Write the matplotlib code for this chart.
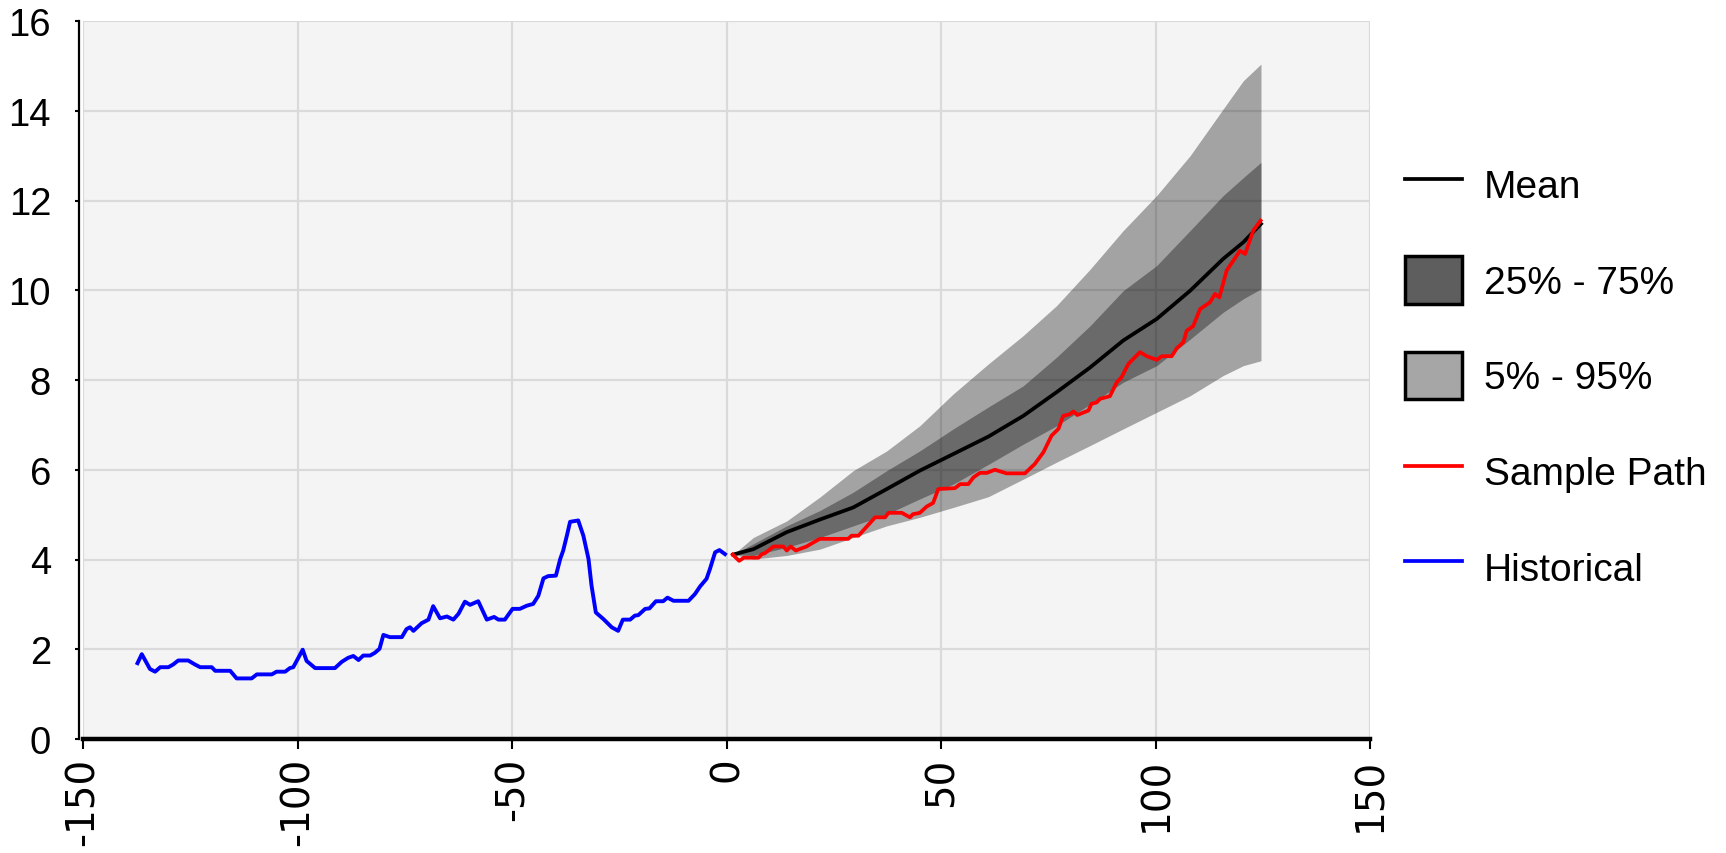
import matplotlib
matplotlib.use("Agg")
import matplotlib.pyplot as plt
from matplotlib.lines import Line2D
from matplotlib.patches import Patch

plt.rcParams['font.family'] = ['Liberation Sans', 'DejaVu Sans']
plt.rcParams['axes.unicode_minus'] = False

# ---------------- data ----------------
hist_x = [-137.3, -136.3, -134.4, -133.2, -132.0, -130.1, -129.0, -127.8, -125.5, -123.9,
          -122.7, -120.0, -119.2, -115.7, -114.2, -110.7, -109.5, -106.0, -104.9, -102.9,
          -101.8, -101.0, -98.8, -97.9, -95.9, -91.3, -89.7, -88.2, -87.0, -85.8,
          -84.7, -83.1, -82.0, -80.9, -80.0, -78.5, -75.7, -74.6, -73.8, -73.0,
          -71.1, -69.5, -68.4, -66.8, -65.2, -63.7, -62.5, -61.0, -59.8, -57.9,
          -55.9, -54.2, -53.2, -51.7, -49.9, -48.2, -46.6, -45.1, -43.9, -42.7,
          -41.6, -39.8, -38.8, -38.1, -37.2, -36.5, -34.6, -33.4, -32.2, -31.5,
          -30.5, -28.7, -26.8, -25.3, -24.2, -22.5, -21.4, -20.6, -19.0, -18.0,
          -16.5, -14.8, -13.8, -12.4, -8.9, -7.4, -6.2, -4.7, -3.9, -2.7,
          -1.7, -0.4]
hist_y = [1.69, 1.89, 1.56, 1.50, 1.60, 1.60, 1.66, 1.75, 1.75, 1.66,
          1.60, 1.60, 1.52, 1.52, 1.35, 1.35, 1.44, 1.44, 1.50, 1.50,
          1.58, 1.60, 1.99, 1.74, 1.58, 1.58, 1.72, 1.81, 1.85, 1.76,
          1.86, 1.86, 1.92, 2.01, 2.32, 2.27, 2.27, 2.45, 2.49, 2.41,
          2.58, 2.66, 2.96, 2.69, 2.73, 2.66, 2.79, 3.06, 2.99, 3.07,
          2.66, 2.72, 2.66, 2.66, 2.90, 2.90, 2.97, 3.01, 3.19, 3.58,
          3.63, 3.64, 4.01, 4.20, 4.55, 4.84, 4.87, 4.53, 4.01, 3.42,
          2.82, 2.67, 2.49, 2.41, 2.66, 2.66, 2.75, 2.76, 2.90, 2.91,
          3.07, 3.07, 3.15, 3.08, 3.08, 3.23, 3.40, 3.57, 3.79, 4.16,
          4.21, 4.12]

fc_x = [1.5, 6.2, 14.0, 21.7, 29.5, 37.3, 45.0, 52.8, 61.0, 69.1,
        76.9, 84.7, 92.4, 100.2, 108.0, 115.7, 120.4, 124.5]
mean_y = [4.11, 4.23, 4.61, 4.89, 5.16, 5.57, 5.98, 6.35, 6.74, 7.20,
          7.73, 8.28, 8.88, 9.36, 9.99, 10.70, 11.07, 11.48]
p95_y = [4.11, 4.49, 4.86, 5.39, 5.98, 6.42, 6.98, 7.69, 8.36, 8.99,
         9.66, 10.47, 11.33, 12.11, 13.00, 14.04, 14.67, 15.04]
p75_y = [4.11, 4.35, 4.75, 5.09, 5.50, 5.98, 6.42, 6.91, 7.40, 7.87,
         8.51, 9.21, 9.99, 10.55, 11.33, 12.11, 12.51, 12.85]
p25_y = [4.11, 4.09, 4.27, 4.49, 4.75, 5.01, 5.35, 5.68, 6.12, 6.57,
         6.98, 7.46, 7.95, 8.32, 8.91, 9.51, 9.81, 10.03]
p05_y = [4.11, 4.01, 4.09, 4.23, 4.49, 4.75, 4.94, 5.16, 5.40, 5.79,
         6.17, 6.54, 6.91, 7.28, 7.65, 8.10, 8.32, 8.43]

samp_x = [1.4, 2.9, 4.0, 7.4, 8.2, 8.9, 10.9, 13.2, 14.0, 14.9,
          16.1, 18.6, 20.2, 21.7, 28.3, 29.1, 30.7, 34.6, 36.9, 37.7,
          40.8, 42.7, 43.4, 45.0, 46.6, 48.1, 49.3, 53.2, 54.4, 56.3,
          57.5, 59.0, 60.6, 62.5, 65.2, 69.5, 71.8, 73.8, 75.7, 77.3,
          78.4, 80.0, 80.8, 81.7, 84.3, 85.0, 86.2, 87.0, 89.3, 90.9,
          92.0, 93.6, 96.3, 97.9, 100.2, 101.4, 103.7, 104.9, 106.4, 107.2,
          108.7, 110.3, 112.6, 113.8, 114.8, 116.5, 119.6, 120.8, 122.7, 124.4]
samp_y = [4.11, 3.97, 4.04, 4.04, 4.12, 4.14, 4.29, 4.29, 4.20, 4.29,
          4.20, 4.29, 4.38, 4.46, 4.46, 4.53, 4.53, 4.94, 4.94, 5.04,
          5.04, 4.94, 5.01, 5.04, 5.18, 5.26, 5.57, 5.59, 5.68, 5.68,
          5.83, 5.93, 5.93, 6.00, 5.92, 5.92, 6.13, 6.39, 6.76, 6.91,
          7.20, 7.24, 7.30, 7.22, 7.32, 7.47, 7.50, 7.58, 7.64, 7.95,
          8.06, 8.36, 8.62, 8.53, 8.45, 8.53, 8.53, 8.71, 8.84, 9.10,
          9.20, 9.58, 9.73, 9.92, 9.84, 10.44, 10.88, 10.81, 11.33, 11.55]

x_ticks = [-150, -100, -50, 0, 50, 100, 150]
x_labels = ["-150", "-100", "-50", "0", "50", "100", "150"]
y_ticks = [0, 2, 4, 6, 8, 10, 12, 14, 16]
y_labels = ["0", "2", "4", "6", "8", "10", "12", "14", "16"]
legend_labels = ["Mean", "25% - 75%", "5% - 95%", "Sample Path", "Historical"]

# ---------------- figure ----------------
W, H = 1726, 854
fig = plt.figure(figsize=(W / 100, H / 100), dpi=100, facecolor='white')
ax = fig.add_axes([83 / W, 1 - 740 / H, (1370.4 - 83) / W, (740 - 22) / H])
ax.set_facecolor('#f4f4f4')

for s in ['top', 'right']:
    ax.spines[s].set_visible(False)
ax.spines['left'].set_position(('outward', 3))
ax.spines['bottom'].set_linewidth(3.2)
ax.spines['left'].set_linewidth(1.6)

ax.set_xlim(-150, 150)
ax.set_ylim(0, 16)
ax.set_xticks(x_ticks)
ax.set_xticklabels(x_labels, rotation=90, fontsize=28,
                   family=['DejaVu Sans'])
ax.set_yticks(y_ticks)
ax.set_yticklabels(y_labels, fontsize=27.5, family=['Liberation Sans'])
ax.grid(True, color='#dadada', linewidth=1.6, zorder=0)
ax.set_axisbelow(True)

ax.tick_params(axis='x', length=7.5, width=1.5, pad=5, direction='out')
ax.tick_params(axis='y', length=3, width=1.5, pad=17, direction='out')

ax.fill_between(fc_x, p05_y, p95_y, color='black', alpha=0.33, linewidth=0, zorder=2)
ax.fill_between(fc_x, p25_y, p75_y, color='black', alpha=0.35, linewidth=0, zorder=3)
ax.plot(fc_x, mean_y, color='black', linewidth=2.7, zorder=4)
ax.plot(samp_x, samp_y, color='#ff0000', linewidth=2.7, zorder=5)
ax.plot(hist_x, hist_y, color='#0000ff', linewidth=2.8, zorder=5)

handles = [
    Line2D([], [], color='black', linewidth=2.7),
    Patch(facecolor='#5e5e5e', edgecolor='black', linewidth=2.5),
    Patch(facecolor='#a6a6a6', edgecolor='black', linewidth=2.5),
    Line2D([], [], color='#ff0000', linewidth=2.7),
    Line2D([], [], color='#0000ff', linewidth=2.7),
]
fig.legend(handles, legend_labels, loc='upper left',
           bbox_to_anchor=(1404.5 / W, 1 - 161.5 / H), frameon=False,
           borderpad=0, borderaxespad=0, fontsize=28,
           handlelength=1.47, handleheight=1.5, handletextpad=0.57,
           labelspacing=1.24)

fig.savefig('out.png', dpi=100, facecolor='white')
